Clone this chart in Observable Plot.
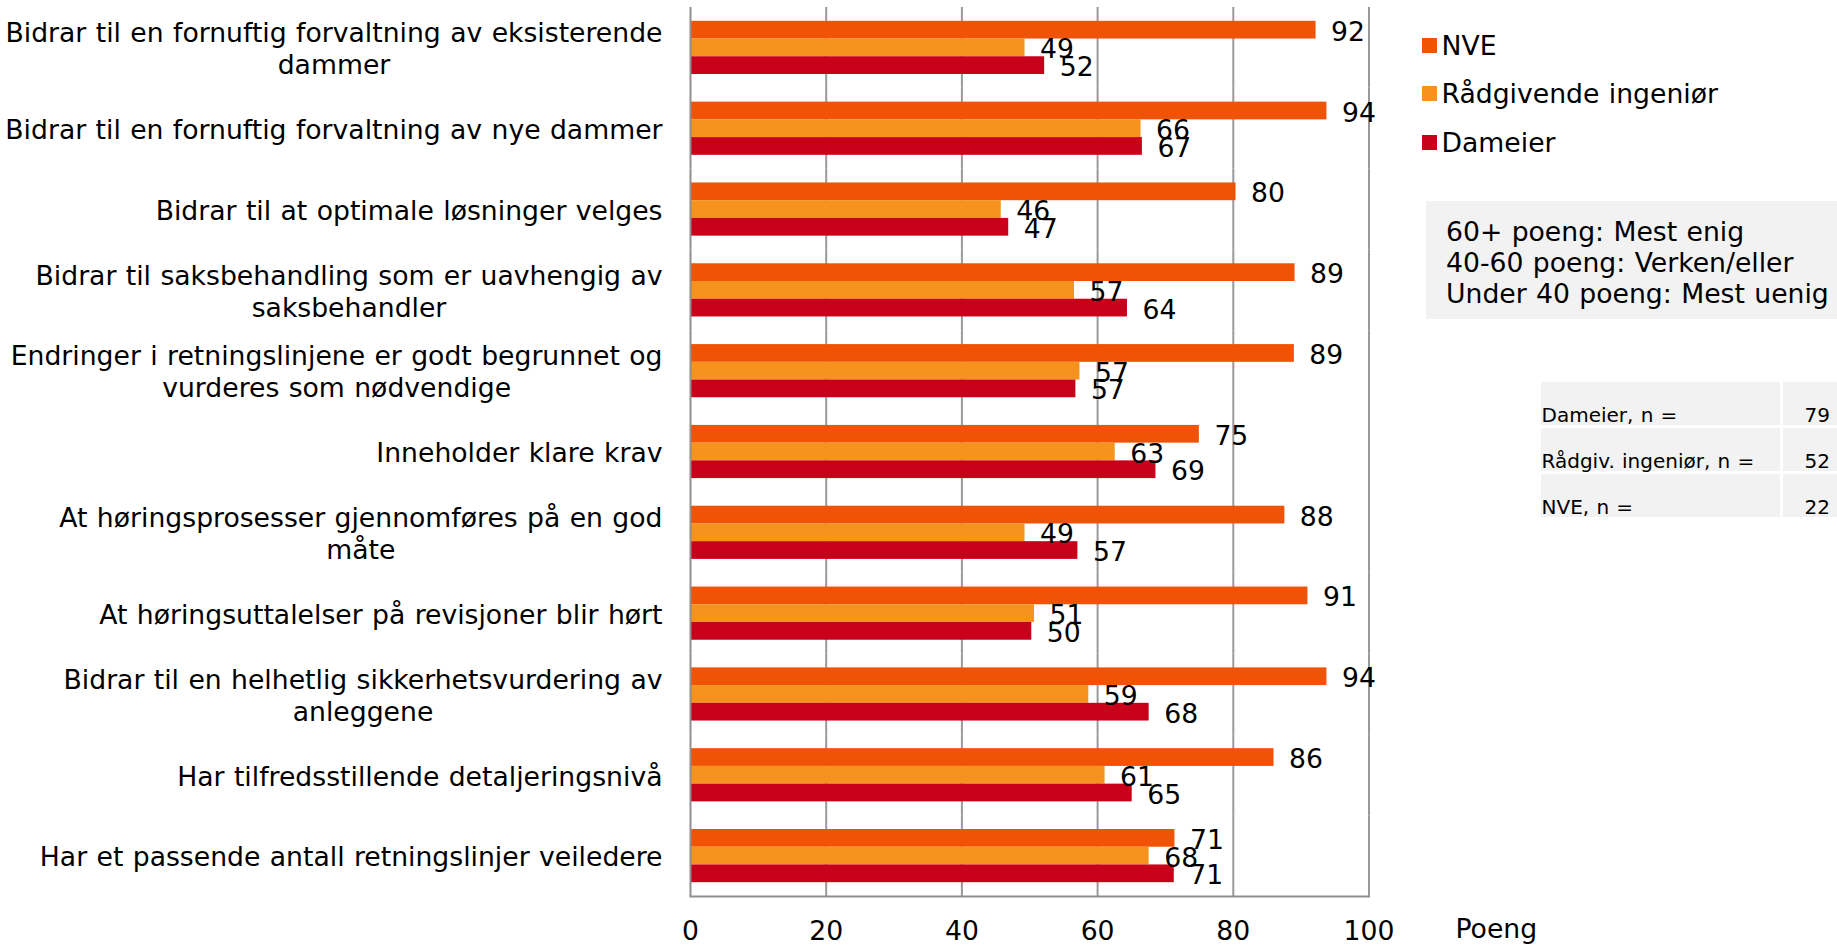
<!DOCTYPE html>
<html>
<head>
<meta charset="utf-8">
<script src="https://cdn.jsdelivr.net/npm/d3@7"></script>
<script src="https://cdn.jsdelivr.net/npm/@observablehq/plot@0.6"></script>
<style>
  html, body { margin: 0; padding: 0; background: #fff; }
  body { font-family: "DejaVu Sans", Verdana, sans-serif; color: #000; word-spacing: 0.9px; }
  #wrap { position: relative; width: 1837px; height: 945px; overflow: hidden; }
  #chart { position: absolute; left: 0; top: 0; }
  #chart svg text { word-spacing: 0.9px; }
  .abs { position: absolute; white-space: nowrap; }
  .legtxt { font-size: 26.67px; line-height: 30px; }
  .sw { width: 15px; height: 15px; }
  #info { left: 1426px; top: 201px; width: 420px; height: 118px; background: #f2f2f2;
          box-sizing: border-box; padding: 14.5px 0 0 20px; font-size: 26.67px; line-height: 31.3px; }
  .cell { background: #f2f2f2; height: 43.3px; font-size: 20px; }
  .cell span { position: absolute; bottom: -2px; line-height: 24px; }
</style>
</head>
<body>
<div id="wrap">
  <div id="chart"></div>
</div>
<script>
// ---- data ----
const categories = [
  "Bidrar til en fornuftig forvaltning av eksisterende\ndammer",
  "Bidrar til en fornuftig forvaltning av nye dammer",
  "Bidrar til at optimale løsninger velges",
  "Bidrar til saksbehandling som er uavhengig av\nsaksbehandler",
  "Endringer i retningslinjene er godt begrunnet og\nvurderes som nødvendige",
  "Inneholder klare krav",
  "At høringsprosesser gjennomføres på en god\nmåte",
  "At høringsuttalelser på revisjoner blir hørt",
  "Bidrar til en helhetlig sikkerhetsvurdering av\nanleggene",
  "Har tilfredsstillende detaljeringsnivå",
  "Har et passende antall retningslinjer veiledere"
];
const seriesNames = ["NVE", "Rådgivende ingeniør", "Dameier"];
const seriesColors = ["#F05206", "#F6921E", "#C8001A"];
const nveValues        = [92.2, 93.8, 80.4, 89.1, 89.0, 75.0, 87.6, 91.0, 93.8, 86.0, 71.4];
const radgivendeValues = [49.3, 66.4, 45.8, 56.6, 57.4, 62.6, 49.3, 50.7, 58.7, 61.1, 67.6];
const dameierValues    = [52.2, 66.6, 46.9, 64.4, 56.8, 68.6, 57.1, 50.3, 67.6, 65.1, 71.3];
const xTicks = [0, 20, 40, 60, 80, 100];
const xLabel = "Poeng";
const infoLines = ["60+ poeng: Mest enig", "40-60 poeng: Verken/eller", "Under 40 poeng: Mest uenig"];
const nLabels = ["Dameier, n =", "Rådgiv. ingeniør, n =", "NVE, n ="];
const nValues = [79, 52, 22];

// ---- table for Plot ----
const valueSets = [nveValues, radgivendeValues, dameierValues];
const data = categories.flatMap((c, i) =>
  seriesNames.map((s, j) => ({category: c, series: s, value: valueSets[j][i]})));

const W = 1837, H = 945;
const chart = Plot.plot({
  width: W,
  height: H,
  marginLeft: 690,
  marginRight: W - 1368.5,
  marginTop: 7,
  marginBottom: 49,
  style: {fontFamily: "DejaVu Sans, Verdana, sans-serif", fontSize: "26.67px", color: "#000", background: "#fff"},
  x: {domain: [0, 100], axis: null},
  y: {domain: seriesNames, paddingInner: 0, paddingOuter: 0.78, round: false, axis: null},
  fy: {domain: categories, padding: 0, round: false},
  color: {domain: seriesNames, range: seriesColors},
  marks: [
    Plot.gridX({ticks: xTicks.filter(t => t > 0), stroke: "#999", strokeOpacity: 1, strokeWidth: 2}),
    Plot.barX(data, {x: "value", y: "series", fy: "category", fill: "series"}),
    Plot.ruleX([0], {stroke: "#8f8f8f", strokeWidth: 2}),
    Plot.frame({anchor: "bottom", facet: "super", stroke: "#8f8f8f", strokeWidth: 2}),
    Plot.text(data, {x: "value", y: "series", fy: "category",
      text: d => String(Math.round(d.value)), textAnchor: "start", dx: 15, dy: 2, fill: "#000"}),
    Plot.axisX({ticks: xTicks, tickSize: 0, tickPadding: 25, label: null, fill: "#000"}),
    Plot.axisFy({anchor: "left", tickSize: 0, tickPadding: 28, label: null, lineHeight: 1.2, fill: "#000"})
  ]
});
document.getElementById("chart").append(chart);

// centre the lines of multi-line category labels within their right-aligned block
chart.querySelectorAll('g[aria-label="fy-axis tick label"] text').forEach(t => {
  const spans = t.querySelectorAll("tspan");
  if (spans.length < 2) return;
  const w = t.getBBox().width;
  t.setAttribute("text-anchor", "middle");
  spans.forEach(s => s.setAttribute("x", -w / 2));
});

// ---- legend / notes (HTML beside the SVG) ----
const wrap = document.getElementById("wrap");
const legCenters = [45.4, 93.8, 142.3];
seriesNames.forEach((s, i) => {
  const sw = document.createElement("div");
  sw.className = "abs sw";
  sw.style.left = "1422px";
  sw.style.top = (legCenters[i] - 7.5) + "px";
  sw.style.background = seriesColors[i];
  wrap.append(sw);
  const t = document.createElement("div");
  t.className = "abs legtxt";
  t.style.left = "1441.5px";
  t.style.top = (legCenters[i] - 14.8) + "px";
  t.textContent = s;
  wrap.append(t);
});

const info = document.createElement("div");
info.id = "info";
info.className = "abs";
info.innerHTML = infoLines.map(l => `<div>${l}</div>`).join("");
wrap.append(info);

const rowTops = [381.7, 427.7, 473.7];
nLabels.forEach((l, i) => {
  const c1 = document.createElement("div");
  c1.className = "abs cell";
  c1.style.left = "1541px"; c1.style.width = "239px"; c1.style.top = rowTops[i] + "px";
  c1.innerHTML = `<span style="left:0.5px">${l}</span>`;
  wrap.append(c1);
  const c2 = document.createElement("div");
  c2.className = "abs cell";
  c2.style.left = "1783px"; c2.style.width = "60px"; c2.style.top = rowTops[i] + "px";
  c2.innerHTML = `<span style="right:13px">${nValues[i]}</span>`;
  wrap.append(c2);
});

const pl = document.createElement("div");
pl.className = "abs legtxt";
pl.style.left = "1455.5px";
pl.style.top = "914px";
pl.textContent = xLabel;
wrap.append(pl);
</script>
</body>
</html>
